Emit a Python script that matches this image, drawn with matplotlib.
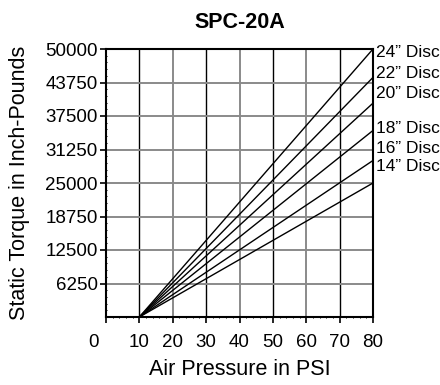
import matplotlib
matplotlib.use('Agg')
import matplotlib.pyplot as plt
import matplotlib.transforms as mtransforms
from matplotlib.ticker import MultipleLocator

# data
discs = ['24\u201d Disc', '22\u201d Disc', '20\u201d Disc', '18\u201d Disc', '16\u201d Disc', '14\u201d Disc']
psi = [10, 80]
torque_at_80 = [50000, 44700, 39900, 34800, 29200, 25000]
label_y = [49300, 45470, 41740, 35130, 31470, 28040]

x_ticks = [0, 10, 20, 30, 40, 50, 60, 70, 80]
y_ticks = [6250, 12500, 18750, 25000, 31250, 37500, 43750, 50000]

plt.rcParams['font.family'] = ['Liberation Sans', 'DejaVu Sans']

fig = plt.figure(figsize=(4.4, 3.85), dpi=100)
ax = fig.add_axes([106 / 440, 1 - 317 / 385, 267 / 440, 268 / 385])

# grid: even tens gray, odd tens black, horizontals gray
for x in x_ticks[1:-1]:
    col = 'black' if (x // 10) % 2 == 1 else '#8a8a8a'
    lw = 1.0 if col == 'black' else 1.4
    ax.axvline(x, color=col, linewidth=lw, zorder=1)
for y in y_ticks[:-1]:
    ax.axhline(y, color='#8a8a8a', linewidth=1.4, zorder=1)

# 繪製各尺寸曲線
for name, t, ly in zip(discs, torque_at_80, label_y):
    ax.plot(psi, [0, t], color='black', linewidth=1.0, zorder=3)
    ax.text(80.9, ly, name, fontsize=12.5, va='center', ha='left', clip_on=False)

ax.set_xlim(0, 80)
ax.set_ylim(0, 50000)
ax.set_xticks(x_ticks)
ax.set_yticks(y_ticks)
ax.set_yticklabels([str(v) for v in y_ticks])
ax.xaxis.set_minor_locator(MultipleLocator(2))
ax.yaxis.set_minor_locator(MultipleLocator(1250))

ax.tick_params(axis='both', which='major', labelsize=13.5, length=4, width=1.2, direction='out')
ax.tick_params(axis='x', which='major', pad=8)
ax.tick_params(axis='y', which='major', pad=2)
ax.tick_params(axis='both', which='minor', length=2, width=0.7, direction='inout')

# 0 label sits left of the axis corner
lbl0 = ax.get_xticklabels()[0]
lbl0.set_transform(lbl0.get_transform() + mtransforms.ScaledTranslation(-13 / 100, 0, fig.dpi_scale_trans))

for s in ax.spines.values():
    s.set_color('black')
    s.set_linewidth(1.5)

ax.set_xlabel('Air Pressure in PSI', fontsize=15.5, labelpad=6)
ax.set_ylabel('Static Torque in Inch-Pounds', fontsize=15.5, labelpad=11)
fig.text(239.5 / 440, 1 - 28 / 385, 'SPC-20A', fontsize=15.5, fontweight='bold', ha='center', va='baseline')

fig.savefig('out.png', dpi=100)
